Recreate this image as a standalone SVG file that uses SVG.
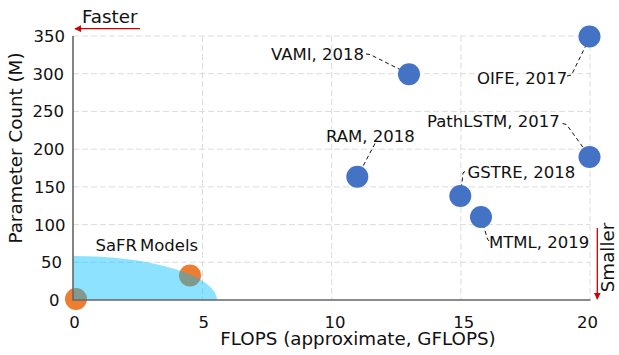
<svg xmlns="http://www.w3.org/2000/svg" width="619" height="355" viewBox="0 0 619 355">
<defs>
<style>
.grid{stroke:#dcdcdc;stroke-width:1;stroke-dasharray:6,3;fill:none}
.spine{stroke:#666;stroke-width:1.6;fill:none}
.tick{font-family:"DejaVu Sans",sans-serif;font-size:16.5px;fill:#111}
.lbl{font-family:"DejaVu Sans",sans-serif;font-size:16.5px;fill:#111}
.ax{font-family:"DejaVu Sans",sans-serif;font-size:18.3px;fill:#111}
.blue{fill:#4472c4}
.orange{fill:#ed7d31}
.conn{stroke:#111;stroke-width:1;stroke-dasharray:4,3;fill:none}
.red{stroke:#cc0000;stroke-width:1.3;fill:none}
</style>
<marker id="ah" viewBox="0 0 10 10" refX="9" refY="5" markerWidth="7" markerHeight="7" orient="auto" markerUnits="userSpaceOnUse">
<path d="M0,0 L10,5 L0,10 z" fill="#cc0000"/>
</marker>
</defs>
<rect width="619" height="355" fill="#fff"/>
<g id="grid">
<path class="grid" d="M73,262.3H590M73,224.6H590M73,186.9H590M73,149.2H590M73,111.4H590M73,73.7H590M73,36H590"/>
<path class="grid" d="M202.5,36V300M331.7,36V300M460.9,36V300M590,36V300"/>
</g>
<g id="connectors">
<path class="conn" d="M366,54 L370,54.5 L409,74"/>
<path class="conn" d="M567,76 L571.5,75 L590,37"/>
<path class="conn" d="M562.5,123.5 L566.5,124.5 L590,157"/>
<path class="conn" d="M375,143.5 L357.5,176.5"/>
<path class="conn" d="M465,171.5 L463,173 L460.5,196"/>
<path class="conn" d="M481,217.5 L487.5,239 L489,241"/>
</g>
<g id="node-oife"><circle class="blue" cx="589.5" cy="36.5" r="11"/><text class="lbl" x="477" y="83.5">OIFE, 2017</text></g>
<g id="node-vami"><circle class="blue" cx="409" cy="74.3" r="11"/><text class="lbl" x="271" y="60">VAMI, 2018</text></g>
<g id="node-pathlstm"><circle class="blue" cx="589.5" cy="157" r="11"/><text class="lbl" x="427" y="127">PathLSTM, 2017</text></g>
<g id="node-ram"><circle class="blue" cx="357.3" cy="176.7" r="11"/><text class="lbl" x="326" y="142">RAM, 2018</text></g>
<g id="node-gstre"><circle class="blue" cx="460.3" cy="196" r="11"/><text class="lbl" x="467.5" y="178">GSTRE, 2018</text></g>
<g id="node-mtml"><circle class="blue" cx="481" cy="217" r="11"/><text class="lbl" x="489" y="248">MTML, 2019</text></g>
<g id="node-safr">
<circle class="orange" cx="76" cy="299" r="11"/>
<circle class="orange" cx="190" cy="275.5" r="11"/>
<path d="M73,300 V256 A144,44 0 0 1 217,300 Z" fill="#00bfff" fill-opacity="0.45"/>
<text class="lbl" x="95.5" y="251">SaFR <tspan x="140">Models</tspan></text>
</g>
<g id="axes">
<path class="spine" d="M73,36V300H590.5"/>
<g class="tick" text-anchor="end">
<text x="65" y="42">350</text>
<text x="64" y="79.7">300</text>
<text x="64" y="117.4">250</text>
<text x="64.5" y="155.2">200</text>
<text x="65.5" y="192.9">150</text>
<text x="65.5" y="230.6">100</text>
<text x="62" y="268.3">50</text>
<text x="59.5" y="306">0</text>
</g>
<g class="tick" text-anchor="middle">
<text x="74.5" y="327.5">0</text>
<text x="203.8" y="327.5">5</text>
<text x="335" y="327.5">10</text>
<text x="463.8" y="327.5">15</text>
<text x="587.5" y="327.5">20</text>
</g>
<text class="ax" x="358" y="344.5" text-anchor="middle">FLOPS (approximate, GFLOPS)</text>
<text class="ax" transform="translate(22,148) rotate(-90)" text-anchor="middle">Parameter Count (M)</text>
</g>
<g id="annot-faster">
<line class="red" x1="140" y1="28.7" x2="75" y2="28.7" marker-end="url(#ah)"/>
<text class="ax" x="82" y="22.5">Faster</text>
</g>
<g id="annot-smaller">
<line class="red" x1="597.3" y1="228" x2="597.3" y2="299" marker-end="url(#ah)"/>
<text class="ax" transform="translate(614,257.5) rotate(-90)" text-anchor="middle">Smaller</text>
</g>
</svg>
